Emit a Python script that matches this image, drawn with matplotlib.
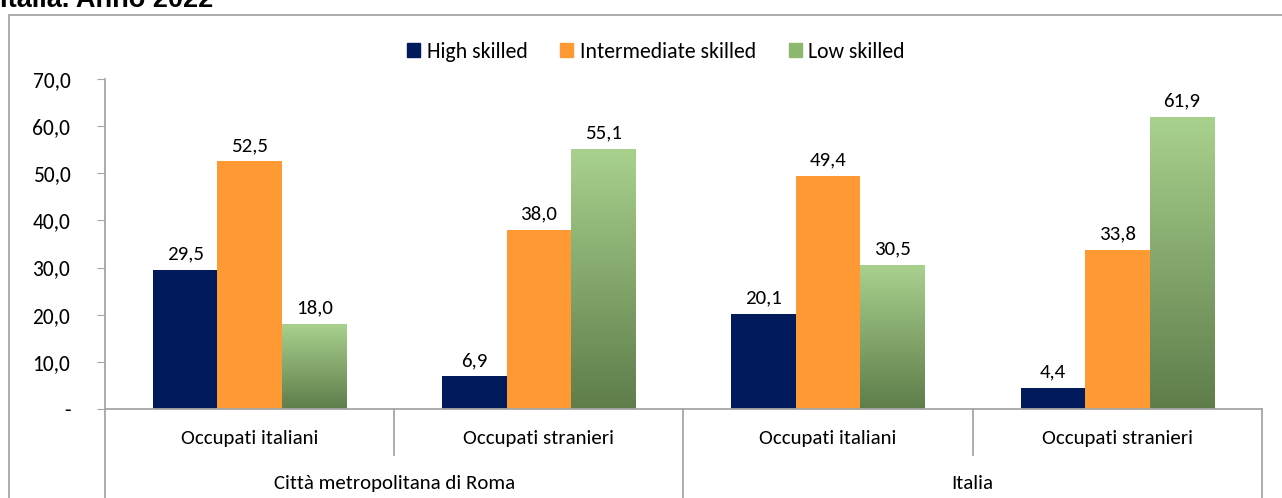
import numpy as np
import matplotlib
matplotlib.use("Agg")
import matplotlib.pyplot as plt
from matplotlib.colors import LinearSegmentedColormap
from matplotlib.patches import Rectangle
from matplotlib.lines import Line2D

# ---- data ----
groups = ["Città metropolitana di Roma", "Italia"]
subcats = ["Occupati italiani", "Occupati stranieri", "Occupati italiani", "Occupati stranieri"]
series = ["High skilled", "Intermediate skilled", "Low skilled"]
high = [29.5, 6.9, 20.1, 4.4]
inter = [52.5, 38.0, 49.4, 33.8]
low = [18.0, 55.1, 30.5, 61.9]
yticks = [0, 10, 20, 30, 40, 50, 60, 70]

plt.rcParams['font.family'] = ['Carlito', 'Lato', 'DejaVu Sans']

NAVY = "#001A5C"
ORANGE = "#FF9933"
G_TOP = "#A9D18E"
G_BOT = "#5E7D4A"
GRAY = "#A6A6A6"
FS = 15

fig = plt.figure(figsize=(12.82, 4.98), dpi=100)
ax = fig.add_axes([105/1282, 1-409/498, (1262-105)/1282, (409-79)/498])

x = np.arange(len(subcats))
w = 0.223
ax.bar(x - w, high, w, color=NAVY, label=series[0], zorder=2)
ax.bar(x, inter, w, color=ORANGE, label=series[1], zorder=2)
gb = ax.bar(x + w, low, w, color="none", label=series[2], zorder=2)

cmap = LinearSegmentedColormap.from_list("g", [G_BOT, G_TOP])
grad = np.linspace(0, 1, 256).reshape(-1, 1)
for r in gb:
    x0 = r.get_x()
    h = r.get_height()
    ax.imshow(grad, extent=[x0, x0 + r.get_width(), 0, h], origin="lower",
              aspect="auto", cmap=cmap, zorder=2)

ax.set_xlim(-0.5, 3.5)
ax.set_ylim(0, 70)

def fmt(v):
    return f"{v:.1f}".replace(".", ",")

for vals, off in ((high, -w), (inter, 0), (low, w)):
    for xi, v in zip(x, vals):
        ax.text(xi + off, v + 1.6, fmt(v), ha="center", va="bottom", fontsize=FS, color="black")

ax.set_yticks(yticks)
ax.set_yticklabels(["-"] + [fmt(t) for t in yticks[1:]], fontsize=FS + 0.5)
ax.tick_params(axis="y", direction="out", length=6, color=GRAY, pad=19)
ax.set_xticks([])
for s in ("top", "right"):
    ax.spines[s].set_visible(False)
ax.spines["left"].set_color(GRAY)
ax.spines["bottom"].set_color(GRAY)
ax.spines["left"].set_linewidth(1.3)
ax.spines["bottom"].set_linewidth(1.3)

# hierarchical category axis
tr = ax.get_xaxis_transform()
axh = 330.0
y1 = -(455 - 409) / axh
y2 = -(500 - 409) / axh
for xb, yb in ((-0.5, y2), (0.5, y1), (1.5, y2), (2.5, y1), (3.5, y2)):
    ax.add_line(Line2D([xb, xb], [0, yb], transform=tr, color=GRAY, lw=1.3, clip_on=False))
for xi, lab in zip(x, subcats):
    ax.text(xi, -(438 - 409) / axh, lab, transform=tr, ha="center", va="center", fontsize=FS)
for gi, g in enumerate(groups):
    ax.text(0.5 + 2 * gi, -(483 - 409) / axh, g, transform=tr, ha="center", va="center", fontsize=FS)

# legend
handles = [Rectangle((0, 0), 1, 1, color=NAVY), Rectangle((0, 0), 1, 1, color=ORANGE),
           Rectangle((0, 0), 1, 1, color="#8DB870")]
fig.legend(handles, series, loc="center", bbox_to_anchor=(656/1282, 1-52/498), ncol=3,
           frameon=False, fontsize=FS + 0.7, handlelength=0.6, handleheight=0.6,
           handletextpad=0.3, columnspacing=1.5)

# outer frame
fig.add_artist(Rectangle((9/1282, -0.2), 1.2, 1.2 - 15/498, transform=fig.transFigure,
                         fill=False, edgecolor=GRAY, lw=1.3))

# cut-off title (partially outside the top edge, as in the reference)
fig.text(0.0, 1 - 7/498, "Italia. Anno 2022", fontsize=19.5, fontweight="bold",
         family=["Liberation Sans", "DejaVu Sans"], ha="left", va="baseline")

fig.savefig("out.png", dpi=100)
